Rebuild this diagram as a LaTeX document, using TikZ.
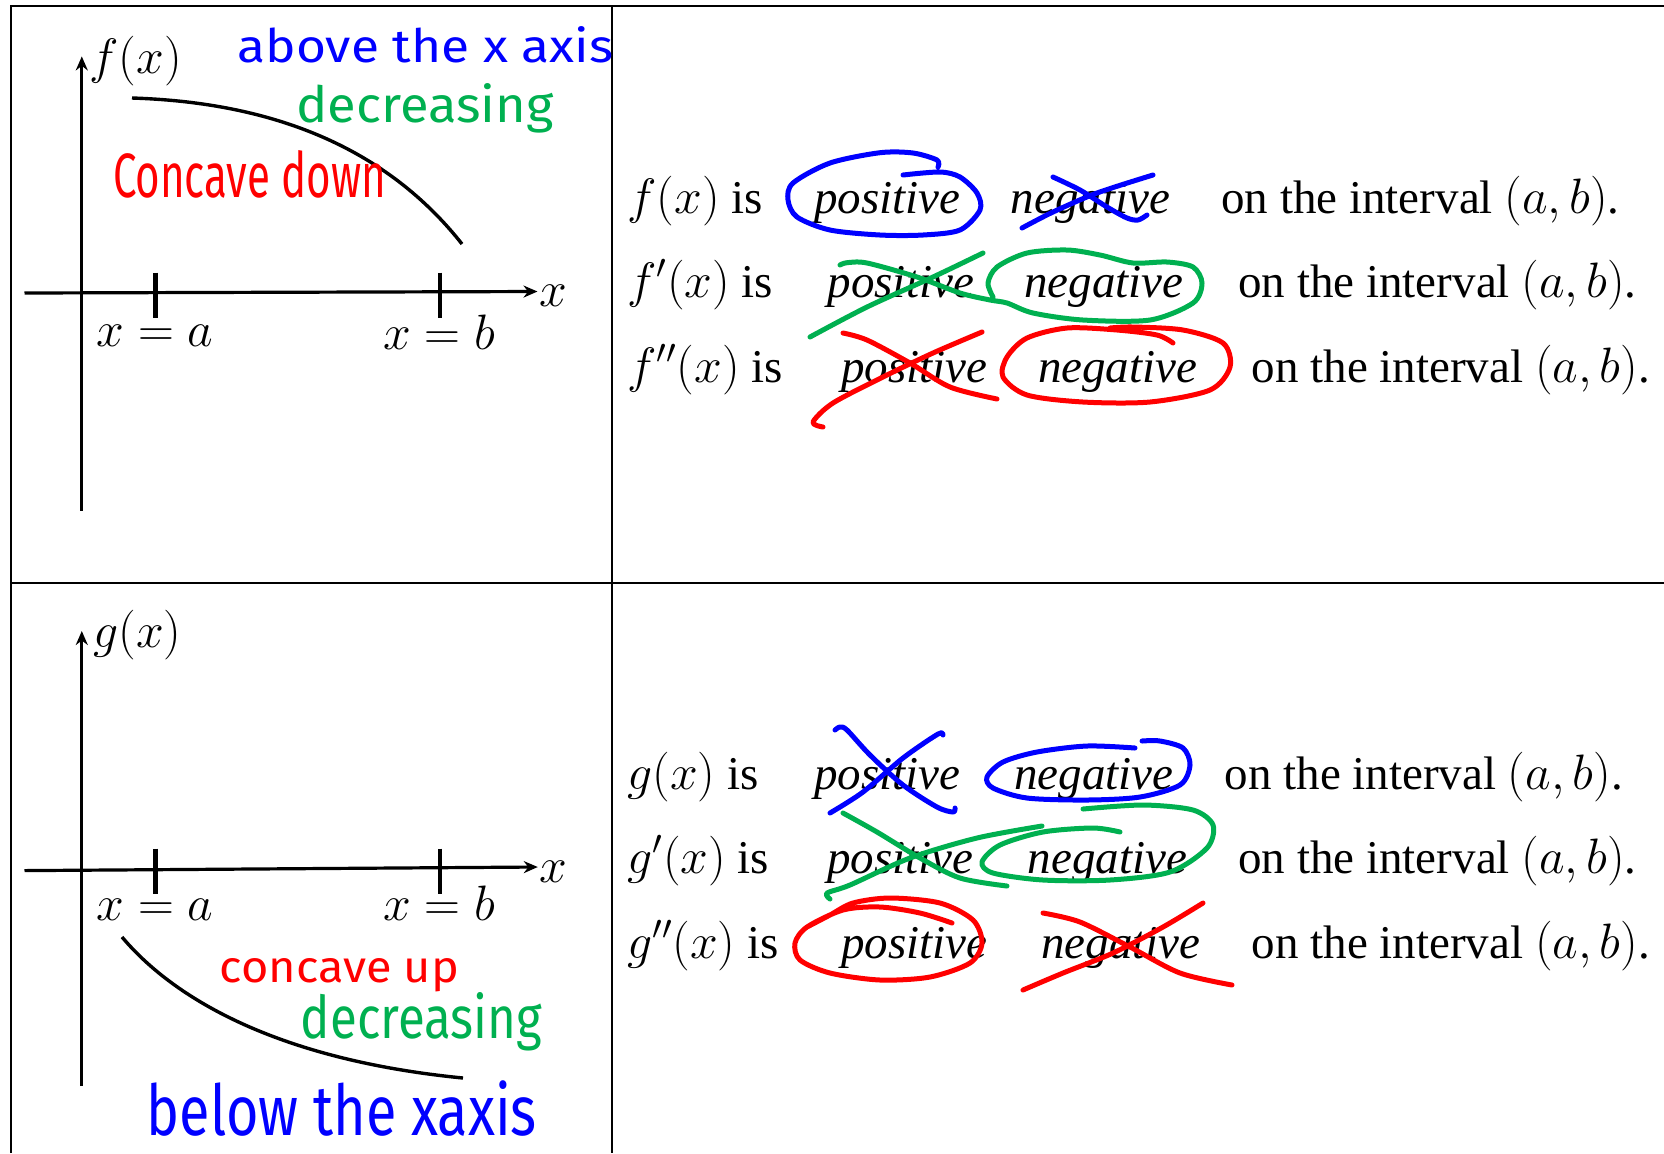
\documentclass[tikz,border=0pt]{standalone}
\usepackage{fontspec}
\setmainfont{Liberation Serif}
\newfontfamily\handfont{Fira Sans}
\usepackage{graphicx}
\usetikzlibrary{arrows.meta}
\definecolor{penBlue}{HTML}{0000FF}
\definecolor{penGreen}{HTML}{00B050}
\definecolor{penRed}{HTML}{FF0000}
\colorlet{tblRule}{black}

\begin{document}
\begin{tikzpicture}[x=0.5pt, y=-0.5pt,
  txt/.style={anchor=base west, inner sep=0pt, font=\fontsize{23.5}{28}\selectfont},
  lab/.style={anchor=base, inner sep=0pt, font=\fontsize{23.5}{28}\selectfont},
  hand/.style={anchor=base west, inner sep=0pt, font=\handfont},
  rule/.style={line width=1pt, tblRule},
  axis/.style={line width=1.6pt, -{Stealth[length=7pt, width=6pt]}},
  tick/.style={line width=2.2pt},
  pen/.style={line width=2.5pt, line cap=round, line join=round}]

  \useasboundingbox (0,0) rectangle (1664,1153);

  % table lines
  \draw[rule] (10.7,1153) -- (10.7,6.4) -- (1664,6.4);
  \draw[rule] (612,6.4) -- (612,1153);
  \draw[rule] (10.7,582.7) -- (1664,582.7);

  % f graph
  \draw[axis] (24.5,293) -- (537.5,291.5);
  \draw[axis] (81.8,510.5) -- (81.8,56.4);
  \draw[tick] (155.3,272.6) -- (155.3,317.7);
  \draw[tick] (440,272.6) -- (440,317.7);
  \draw[line width=1.7pt] (132,98) .. controls (260,102) and (380,140) .. (462,244);
  \node[txt] (fyl) at (89,73) {$f(x)$};
  \node[txt] (fxl) at (539,306) {$x$};
  \node[lab] (fa) at (155,346) {$x=a$};
  \node[lab] (fb) at (439,349) {$x=b$};
  \node[hand, text=penBlue] (fabove) at (237,62) {\resizebox{188pt}{18pt}{above the x axis}};
  \node[hand, text=penGreen] (fdec) at (296,122) {\resizebox{128.5pt}{19.5pt}{decreasing}};
  \node[hand, text=penRed] (fconc) at (112.6,197) {\resizebox{136.5pt}{23.5pt}{Concave down}};

  % g graph
  \draw[axis] (24.5,870.6) -- (537.8,867);
  \draw[axis] (81.8,1086) -- (81.8,631);
  \draw[tick] (155.4,848.6) -- (155.4,893.6);
  \draw[tick] (440,848.6) -- (440,893.6);
  \draw[line width=1.7pt] (122,937) .. controls (175,1000) and (280,1060) .. (463,1078);
  \node[txt] (gyl) at (93,647) {$g(x)$};
  \node[txt] (gxl) at (539,882) {$x$};
  \node[lab] (ga) at (155,920) {$x=a$};
  \node[lab] (gb) at (439,920) {$x=b$};
  \node[hand, text=penRed] (gconc) at (219.5,982) {\resizebox{119.6pt}{12pt}{concave up}};
  \node[hand, text=penGreen] (gdec) at (300.5,1038.7) {\resizebox{120.6pt}{23pt}{decreasing}};
  \node[hand, text=penBlue] (gbelow) at (146.3,1135.5) {\resizebox{195pt}{27.4pt}{below the xaxis}};

  % f statements
  \node[txt] (f0) at (627,213) {$f(x)$ is};
  \node[txt] (f0pos) at (813.7,213) {\textit{positive}};
  \node[txt] (f0neg) at (1010.5,213) {\textit{negative}};
  \node[txt] (f0int) at (1221,213) {on the interval $(a,b)$.};
  \node[txt] (f1) at (627,297) {$f'(x)$ is};
  \node[txt] (f1pos) at (827.3,297) {\textit{positive}};
  \node[txt] (f1neg) at (1024,297) {\textit{negative}};
  \node[txt] (f1int) at (1238,297) {on the interval $(a,b)$.};
  \node[txt] (f2) at (627,382) {$f''(x)$ is};
  \node[txt] (f2pos) at (841,382) {\textit{positive}};
  \node[txt] (f2neg) at (1037.7,382) {\textit{negative}};
  \node[txt] (f2int) at (1251.4,382) {on the interval $(a,b)$.};

  % g statements
  \node[txt] (g0) at (627,789) {$g(x)$ is};
  \node[txt] (g0pos) at (813.7,789) {\textit{positive}};
  \node[txt] (g0neg) at (1014,789) {\textit{negative}};
  \node[txt] (g0int) at (1224.3,789) {on the interval $(a,b)$.};
  \node[txt] (g1) at (627,873) {$g'(x)$ is};
  \node[txt] (g1pos) at (827,873) {\textit{positive}};
  \node[txt] (g1neg) at (1027.5,873) {\textit{negative}};
  \node[txt] (g1int) at (1238,873) {on the interval $(a,b)$.};
  \node[txt] (g2) at (627,958) {$g''(x)$ is};
  \node[txt] (g2pos) at (841,958) {\textit{positive}};
  \node[txt] (g2neg) at (1041,958) {\textit{negative}};
  \node[txt] (g2int) at (1251.4,958) {on the interval $(a,b)$.};

  % pen marks, f rows
  \draw[pen, penBlue] plot[smooth] coordinates {(938,167) (937,160) (913,153) (880,152.7) (830,163) (793,183) (788,200) (797,217) (830,230) (880,235) (923,235) (960,230) (980,210) (977,193) (960,177) (940,172) (903,175)};
  \draw[pen, penBlue] plot[smooth] coordinates {(1022,228) (1053,212) (1097,193) (1153,175)};
  \draw[pen, penBlue] plot[smooth] coordinates {(1053,177) (1080,190) (1107,207) (1127,218) (1138,220) (1147,215)};
  \draw[pen, penGreen] plot[smooth] coordinates {(840,265) (847,262.7) (867,263) (917,277) (960,293) (990,300) (1007,303) (1033,313) (1083,320) (1150,320) (1193,303) (1202,283) (1193,267) (1167,262) (1133,263) (1100,255) (1067,250) (1027,253) (997,267) (988,283) (993,297)};
  \draw[pen, penGreen] plot[smooth] coordinates {(983,253) (933,277) (867,307) (810,337)};
  \draw[pen, penRed] plot[smooth] coordinates {(843,333) (867,340) (910,363) (950,387) (997,399)};
  \draw[pen, penRed] plot[smooth] coordinates {(982,332) (933,353) (883,377) (833,403) (813,422) (823,427)};
  \draw[pen, penRed] plot[smooth] coordinates {(1173,343) (1157,335) (1117,330) (1067,328) (1027,338) (1007,357) (1003,377) (1027,395) (1083,402) (1150,402) (1210,390) (1230,367) (1223,343) (1183,330) (1133,327) (1110,328)};

  % pen marks, g rows
  \draw[pen, penBlue] plot[smooth] coordinates {(835,730) (840,727) (847,730) (870,755) (903,785) (937,807) (953,812) (955,808)};
  \draw[pen, penBlue] plot[smooth] coordinates {(943,735) (938,734) (903,758) (863,792) (830,813)};
  \draw[pen, penBlue] plot[smooth] coordinates {(1135,748) (1087,746) (1037,752) (1003,762) (987,777) (993,788) (1027,798) (1087,800) (1140,797) (1180,785) (1190,765) (1183,748) (1160,741) (1142,741)};
  \draw[pen, penGreen] plot[smooth] coordinates {(843,813) (877,832) (920,858) (960,878) (1007,886)};
  \draw[pen, penGreen] plot[smooth] coordinates {(1042,826) (977,838) (910,858) (850,885) (827,893) (830,899)};
  \draw[pen, penGreen] plot[smooth] coordinates {(1120,832) (1093,828) (1043,832) (1000,845) (982,862) (993,873) (1043,880) (1110,880) (1170,872) (1207,848) (1213,825) (1193,810) (1143,805) (1083,809)};
  \draw[pen, penRed] plot[smooth] coordinates {(807,927) (830,915) (853,903) (890,898) (940,903) (973,920) (982,943) (970,963) (930,977) (880,980) (830,973) (800,960) (795,943) (807,927) (843,910) (880,907) (920,913) (952,923)};
  \draw[pen, penRed] plot[smooth] coordinates {(1043,913) (1080,922) (1130,947) (1180,973) (1232,985)};
  \draw[pen, penRed] plot[smooth] coordinates {(1203,903) (1163,927) (1113,953) (1063,973) (1023,990)};
\end{tikzpicture}
\end{document}
